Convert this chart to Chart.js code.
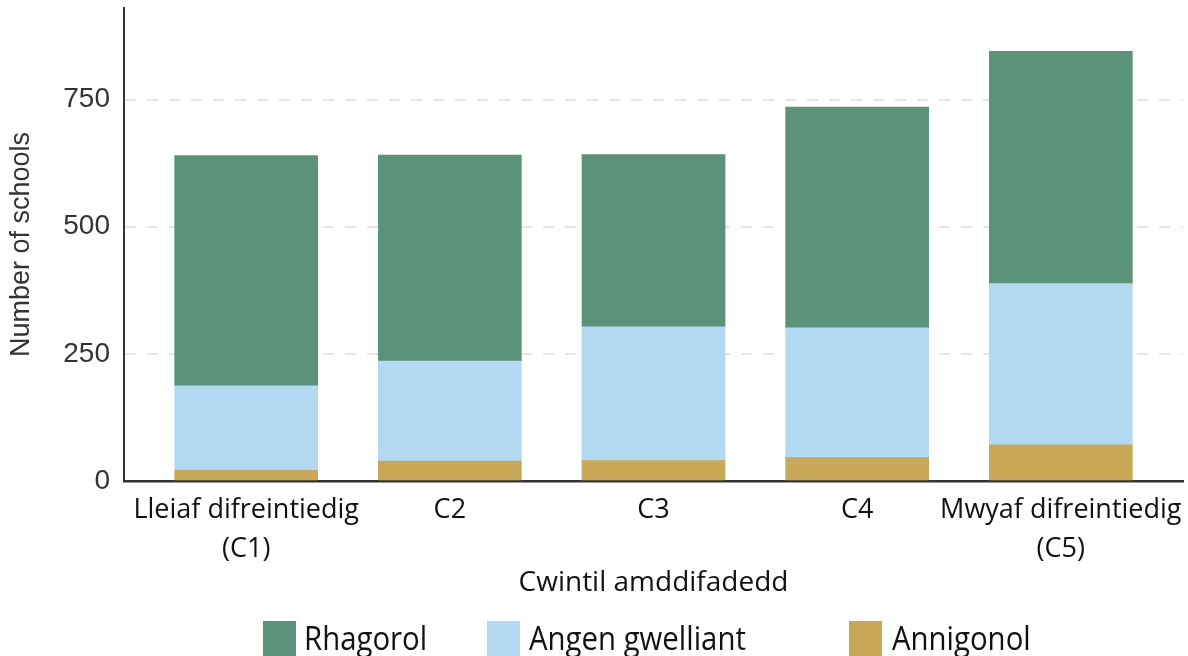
<!DOCTYPE html>
<html>
<head>
<meta charset="utf-8">
<script src="https://cdn.jsdelivr.net/npm/chart.js@4/dist/chart.umd.min.js"></script>
<style>
  html, body { margin: 0; padding: 0; background: #fff; }
  #wrap { position: relative; width: 1188px; height: 656px; overflow: hidden; }
  #c { position: absolute; left: 0; top: 0; }
  .lg-box { position: absolute; width: 33px; height: 36px; }
  .lg-text { position: absolute; font-family: 'Open Sans', sans-serif; font-size: 33px; color: #111; line-height: 40px; white-space: nowrap; transform: scaleX(0.89); transform-origin: left center; }
</style>
</head>
<body>
<div id="wrap">
  <canvas id="c" width="1188" height="656"></canvas>
</div>
<script>
// ---- data ----
const categories = [["Lleiaf difreintiedig", "(C1)"], "C2", "C3", "C4", ["Mwyaf difreintiedig", "(C5)"]];
const seriesNames = ["Annigonol", "Angen gwelliant", "Rhagorol"];   // bottom to top
const annigonol = [21, 39, 40, 46, 71];
const angenGwelliant = [166, 197, 263, 255, 317];
const rhagorol = [453, 405, 339, 434, 457];
const yTicks = [0, 250, 500, 750];
const xAxisTitle = "Cwintil amddifadedd";
const yAxisTitle = "Number of schools";

// ---- styles ----
const colors = ["#C8A856", "#B3D8F1", "#5B927A"];
const seriesValues = [annigonol, angenGwelliant, rhagorol];

const datasets = seriesNames.map((name, s) => ({
  label: name,
  data: seriesValues[s].map((v, i) => ({ x: i, y: v })),
  backgroundColor: colors[s],
  borderWidth: 0,
  barThickness: 143
}));

new Chart(document.getElementById('c'), {
  type: 'bar',
  data: { datasets },
  options: {
    responsive: false,
    animation: false,
    layout: { padding: { left: 0, right: 5, top: 8, bottom: 55 } },
    plugins: { legend: { display: false }, tooltip: { enabled: false }, title: { display: false } },
    scales: {
      x: {
        type: 'linear',
        offset: false,
        stacked: true,
        min: -0.6,
        max: 4.6,
        afterBuildTicks: (scale) => { scale.ticks = categories.map((c, i) => ({ value: i })); },
        afterFit: (scale) => { scale.height = 120; scale.paddingLeft = 0; scale.paddingRight = 0; },
        grid: { display: false, drawTicks: false, offset: false },
        border: { display: true, color: '#333', width: 2.5 },
        ticks: {
          autoSkip: false,
          maxRotation: 0,
          padding: 10,
          color: '#111',
          font: { family: 'Open Sans', size: 27, lineHeight: 1.44 },
          callback: (v) => categories[v]
        },
        title: {
          display: true,
          text: xAxisTitle,
          color: '#111',
          font: { family: 'Open Sans', size: 28, lineHeight: 1.2 },
          padding: { top: 0, bottom: 1 }
        }
      },
      y: {
        stacked: true,
        min: 0,
        max: 930,
        afterBuildTicks: (scale) => { scale.ticks = yTicks.map(v => ({ value: v })); },
        afterFit: (scale) => { scale.width = 124; scale.paddingTop = 0; scale.paddingBottom = 0; },
        grid: {
          drawTicks: false,
          lineWidth: 2,
          color: (ctx) => (ctx.tick && ctx.tick.value === 0) ? 'rgba(0,0,0,0)' : '#e6e6e6'
        },
        border: { display: true, color: '#333', width: 2, dash: [11, 11] },
        ticks: {
          padding: 14,
          color: '#333',
          font: { family: 'Liberation Sans', size: 28 }
        },
        title: {
          display: true,
          text: yAxisTitle,
          color: '#333',
          font: { family: 'Liberation Sans', size: 27, lineHeight: 1.2 },
          padding: { top: 5, bottom: 0 }
        }
      }
    }
  }
});

// ---- HTML legend (order: Rhagorol, Angen gwelliant, Annigonol) ----
const legendPos = [ { box: 263, text: 304 }, { box: 487, text: 529 }, { box: 849, text: 892 } ];
const wrap = document.getElementById('wrap');
[2, 1, 0].forEach((s, k) => {
  const b = document.createElement('div');
  b.className = 'lg-box';
  b.style.left = legendPos[k].box + 'px';
  b.style.top = '621px';
  b.style.background = colors[s];
  wrap.appendChild(b);
  const t = document.createElement('div');
  t.className = 'lg-text';
  t.style.left = legendPos[k].text + 'px';
  t.style.top = '618px';
  t.textContent = seriesNames[s];
  wrap.appendChild(t);
});
</script>
</body>
</html>
